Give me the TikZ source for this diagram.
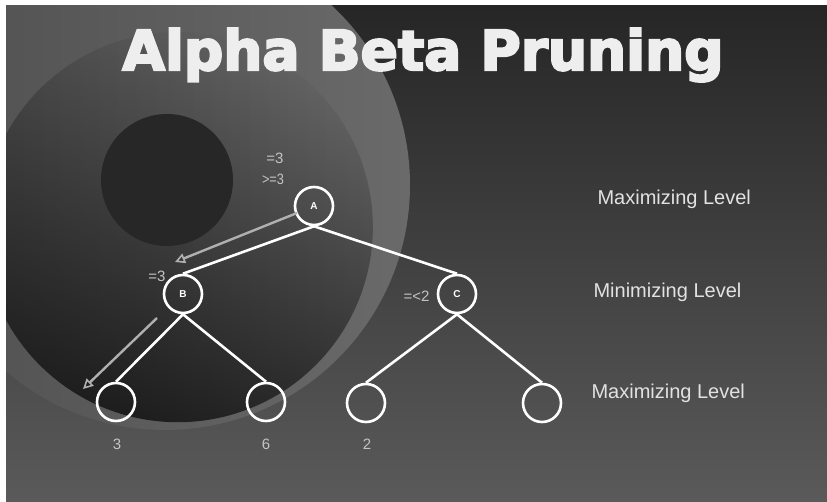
\documentclass[tikz,border=0pt]{standalone}
\usepackage{fontspec}
\setmainfont{Liberation Sans}
\newfontfamily\titlefont{DejaVu Sans Bold}[FakeBold=4]
\usepackage{tikz}
\usetikzlibrary{
  arrows.meta,
  fadings
}
\definecolor{paneltop}{HTML}{262626}
\definecolor{panelbot}{HTML}{5A5A5A}
\definecolor{discleft}{HTML}{505050}
\definecolor{discright}{HTML}{6A6A6A}
\definecolor{innerdark}{HTML}{1E1E1E}
\definecolor{disccore}{HTML}{272727}
\definecolor{hintgray}{HTML}{B0B0B0}
\definecolor{labelgray}{HTML}{C4C4C4}
\definecolor{levelgray}{HTML}{E2E2E2}
\definecolor{titlegray}{HTML}{EEEEEE}
\tikzfading[name=fadeuptop, top color=transparent!100,
  middle color=transparent!72, bottom color=transparent!0]

\begin{document}
\begin{tikzpicture}[x=1pt,y=-1pt,> =Latex]
  \tikzset{
    state/.style={
      circle, draw=white, line width=2.6pt, minimum size=38pt, inner sep=0pt,
      text=white, font=\bfseries\fontsize{10}{11}\selectfont
    },
    branch/.style={draw=white, line width=2.6pt},
    hint/.style={
      draw=hintgray, line width=2.4pt,
      -{Triangle[open,length=10pt,width=10pt,line width=1.6pt]}
    },
    val/.style={text=labelgray, font=\fontsize{15}{18}\selectfont},
    level/.style={text=levelgray, anchor=base west, font=\fontsize{20}{24}\selectfont},
  }
  \useasboundingbox (0,0) rectangle (827,502);

  % slide background
  \fill[white] (0,0) rectangle (827,502);
  \shade[top color=paneltop, bottom color=panelbot] (6,6) rectangle (827,502);
  \begin{scope}
    \clip (6,6) rectangle (827,502);
    \shade[left color=discleft, right color=discright] (165,185) circle (245pt);
    \fill[innerdark, path fading=fadeuptop, fading angle=-20]
      (180,226) circle (196pt);
    \fill[disccore] (167,180) circle (66pt);
  \end{scope}

  % title
  \node[anchor=base, text=titlegray, font=\titlefont\fontsize{55}{60}\selectfont]
    (title) at (423,70) {Alpha Beta Pruning};

  % tree
  \node[state] (A) at (314,206) {A};
  \node[state] (B) at (183,294) {B};
  \node[state] (C) at (457,294) {C};
  \node[state] (leafa) at (116,402) {};
  \node[state] (leafb) at (266,402) {};
  \node[state] (leafc) at (366,403) {};
  \node[state] (leafd) at (542,403) {};

  \draw[branch] (A.south) -- (B.north);
  \draw[branch] (A.south) -- (C.north);
  \draw[branch] (B.south) -- (leafa.north);
  \draw[branch] (B.south) -- (leafb.north);
  \draw[branch] (C.south) -- (leafc.north);
  \draw[branch] (C.south) -- (leafd.north);

  % search direction
  \coordinate (hintastart) at (297,213);
  \coordinate (hintaend) at (175,262);
  \coordinate (hintbstart) at (157,318);
  \coordinate (hintbend) at (83,389);
  \draw[hint] (hintastart) -- (hintaend);
  \draw[hint] (hintbstart) -- (hintbend);

  % bounds and values
  \node[val, anchor=base east] (alphaA) at (287,164) {=3};
  \node[val, anchor=base east, xscale=0.85] (betaA) at (287,185) {>=3};
  \node[val, anchor=base east] (alphaB) at (169,282) {=3};
  \node[val, anchor=base east] (betaC) at (433,302) {=<2};
  \node[val, anchor=base] (vala) at (117,449) {3};
  \node[val, anchor=base] (valb) at (266,449) {6};
  \node[val, anchor=base] (valc) at (367,449) {2};

  % levels
  \node[level] (maxtop) at (594,205) {Maximizing Level};
  \node[level] (minmid) at (590,298) {Minimizing Level};
  \node[level] (maxlow) at (588,399) {Maximizing Level};
\end{tikzpicture}
\end{document}
